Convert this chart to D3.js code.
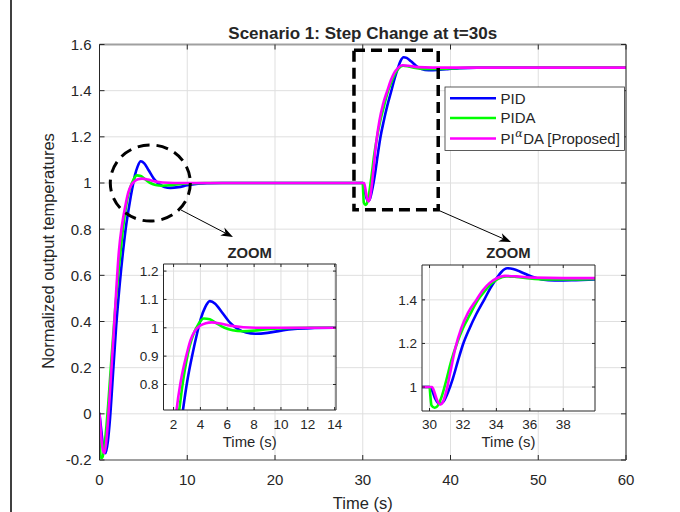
<!DOCTYPE html>
<html><head><meta charset="utf-8">
<script src="https://cdn.jsdelivr.net/npm/d3@7"></script>
<style>
body{margin:0;background:#fff}
svg{display:block}
text{font-family:"Liberation Sans",Arial,Helvetica,sans-serif;fill:#262626}
</style>
</head><body>
<svg id="c" width="680" height="512"></svg>
<script>
// ---------------- data ----------------
const mainXTicks = [0,10,20,30,40,50,60];
const mainYTicks = [-0.2,0,0.2,0.4,0.6,0.8,1,1.2,1.4,1.6];
const zoom1XTicks = [2,4,6,8,10,12,14];
const zoom1YTicks = [0.8,0.9,1,1.1,1.2];
const zoom2XTicks = [30,32,34,36,38];
const zoom2YTicks = [1,1.2,1.4];
const seriesNames = ["PID","PIDA","PIαDA [Proposed]"];
const seriesColors = ["#0000ff","#00ff00","#ff00ff"];

const pidT = [0,0.2,0.45,0.7,0.95,1.2,1.5,1.9,2.3,2.7,3.05,3.4,3.75,4.05,4.35,4.7,5.1,5.6,6.2,6.8,7.4,8.1,9.0,10.0,11.0,12.5,14,
  30,30.15,30.35,30.6,30.85,31.1,31.4,31.7,32.0,32.4,32.8,33.3,33.65,34.0,34.3,34.65,35.0,35.5,36.1,36.7,37.5,38.5,39.5,41,43,60];
const pidY = [0,-0.07,-0.15,-0.17,-0.12,-0.02,0.15,0.38,0.56,0.71,0.82,0.905,0.98,1.035,1.072,1.094,1.085,1.055,1.018,0.995,0.983,0.979,0.982,0.99,0.996,0.999,1.0,
  1.0,0.985,0.945,0.922,0.935,0.975,1.04,1.12,1.195,1.27,1.335,1.405,1.455,1.497,1.528,1.545,1.542,1.527,1.507,1.494,1.489,1.49,1.493,1.497,1.5,1.5];

const pidaT = [0,0.05,0.15,0.35,0.55,0.8,1.05,1.4,1.8,2.15,2.45,2.7,2.95,3.2,3.5,3.85,4.25,4.7,5.2,5.8,6.4,7.1,8.0,9.0,10.0,12,
  30,30.05,30.12,30.3,30.45,30.7,31.0,31.3,31.64,32.0,32.4,32.9,33.3,33.7,34.1,34.6,35.2,36,37,38.5,40,42,60];
const pidaY = [0,-0.12,-0.19,-0.19,-0.14,-0.05,0.07,0.26,0.46,0.61,0.72,0.81,0.88,0.935,0.98,1.013,1.033,1.03,1.016,1.0,0.991,0.988,0.99,0.995,0.998,1.0,
  1.0,0.96,0.915,0.905,0.91,0.95,1.03,1.12,1.2,1.27,1.33,1.40,1.44,1.475,1.497,1.508,1.505,1.498,1.494,1.494,1.496,1.499,1.5];

const piadaT = [0,0.15,0.35,0.55,0.75,0.95,1.25,1.6,1.9,2.2,2.55,2.94,3.25,3.6,4.0,4.4,4.85,5.5,6.3,7.2,8.5,10,
  30,30.15,30.3,30.45,30.64,30.82,31.0,31.25,31.55,31.9,32.3,32.8,33.2,33.6,34.0,34.5,35.2,36.2,38,60];
const piadaY = [0,-0.08,-0.15,-0.17,-0.13,-0.04,0.13,0.34,0.53,0.7,0.815,0.9,0.955,0.99,1.008,1.016,1.019,1.015,1.007,1.002,1.0,1.0,
  1.0,1.0,0.975,0.94,0.92,0.935,0.98,1.07,1.18,1.27,1.34,1.40,1.445,1.478,1.498,1.51,1.508,1.502,1.5,1.5];

const seriesT = [pidT, pidaT, piadaT];
const seriesY = [pidY, pidaY, piadaY];

// ---------------- drawing ----------------
const svg = d3.select("#c");
const fmt = d => String(Math.round(d*100)/100);

// figure left border
svg.append("line").attr("x1",11).attr("x2",11).attr("y1",0).attr("y2",512)
  .attr("stroke","#000").attr("stroke-width",1.5);

function drawAxes(id, xs, ys, xt, yt, o){
  const g = svg.append("g");
  const [x0,x1] = xs.range(), [y0,y1] = ys.range(); // y0 bottom, y1 top
  g.append("rect").attr("x",x0).attr("y",y1).attr("width",x1-x0).attr("height",y0-y1).attr("fill","#fff");
  // grid
  g.selectAll(null).data(xt).enter().append("line")
    .attr("x1",d=>xs(d)).attr("x2",d=>xs(d)).attr("y1",y0).attr("y2",y1)
    .attr("stroke","#dfdfdf").attr("stroke-width",1);
  g.selectAll(null).data(yt).enter().append("line")
    .attr("y1",d=>ys(d)).attr("y2",d=>ys(d)).attr("x1",x0).attr("x2",x1)
    .attr("stroke","#dfdfdf").attr("stroke-width",1);
  // clip
  svg.append("clipPath").attr("id",id).append("rect")
    .attr("x",x0).attr("y",y1).attr("width",x1-x0).attr("height",y0-y1);
  const line = d3.line().x(d=>xs(d[0])).y(d=>ys(d[1])).curve(d3.curveMonotoneX);
  const lg = g.append("g").attr("clip-path",`url(#${id})`);
  seriesT.forEach((T,i)=>{
    const pts = T.map((t,j)=>[t, seriesY[i][j]]);
    lg.append("path").attr("d",line(pts)).attr("fill","none")
      .attr("stroke",seriesColors[i]).attr("stroke-width",o.lw)
      .attr("stroke-linejoin","round").attr("stroke-linecap","round");
  });
  // box
  g.append("line").attr("x1",x0).attr("x2",x0).attr("y1",y0).attr("y2",y1).attr("stroke","#262626").attr("stroke-width",1);
  g.append("line").attr("x1",x1).attr("x2",x1).attr("y1",y0).attr("y2",y1).attr("stroke","#262626").attr("stroke-width",1);
  g.append("line").attr("x1",x0).attr("x2",x1).attr("y1",y0).attr("y2",y0).attr("stroke",o.hcol).attr("stroke-width",o.hw);
  g.append("line").attr("x1",x0).attr("x2",x1).attr("y1",y1).attr("y2",y1).attr("stroke",o.hcol).attr("stroke-width",o.hw);
  // ticks (inward, all sides)
  const tl = o.tick;
  xt.forEach(d=>{
    g.append("line").attr("x1",xs(d)).attr("x2",xs(d)).attr("y1",y0).attr("y2",y0-tl).attr("stroke","#262626");
    g.append("line").attr("x1",xs(d)).attr("x2",xs(d)).attr("y1",y1).attr("y2",y1+tl).attr("stroke","#262626");
  });
  yt.forEach(d=>{
    g.append("line").attr("y1",ys(d)).attr("y2",ys(d)).attr("x1",x0).attr("x2",x0+tl).attr("stroke","#262626");
    g.append("line").attr("y1",ys(d)).attr("y2",ys(d)).attr("x1",x1).attr("x2",x1-tl).attr("stroke","#262626");
  });
  // labels
  g.selectAll(null).data(xt).enter().append("text")
    .attr("x",d=>xs(d)).attr("y",o.xlabY).attr("text-anchor","middle")
    .attr("font-size",o.fs).text(fmt);
  g.selectAll(null).data(yt).enter().append("text")
    .attr("x",x0-o.ypad).attr("y",d=>ys(d)+o.fs*0.36).attr("text-anchor","end")
    .attr("font-size",o.fs).text(fmt);
  g.append("text").attr("x",(x0+x1)/2).attr("y",o.xtitleY).attr("text-anchor","middle")
    .attr("font-size",o.fs*1.1).text("Time (s)");
  return g;
}

// main axes
const x = d3.scaleLinear().domain([0,60]).range([99.5,626]);
const y = d3.scaleLinear().domain([-0.2,1.6]).range([460,44.5]);
drawAxes("clipMain", x, y, mainXTicks, mainYTicks,
  {lw:2.6, hcol:"#a0a0a0", hw:2, tick:5, fs:15, xlabY:485, ypad:8, xtitleY:509});

svg.append("text").attr("x",362.7).attr("y",39).attr("text-anchor","middle")
  .attr("font-size",17).attr("font-weight","bold").attr("fill","#000")
  .text("Scenario 1: Step Change at t=30s");
svg.append("text").attr("transform",`translate(54,251) rotate(-90)`).attr("text-anchor","middle")
  .attr("font-size",16.5).text("Normalized output temperatures");

// dashed annotations
svg.append("rect").attr("x",x(29.0)).attr("y",y(1.575))
  .attr("width",x(38.6)-x(29.0)).attr("height",y(0.884)-y(1.575))
  .attr("fill","none").attr("stroke","#000").attr("stroke-width",3.5).attr("stroke-dasharray","11,6");
svg.append("ellipse").attr("cx",x(5.79)).attr("cy",y(1.0))
  .attr("rx",x(5.79+4.56)-x(5.79)).attr("ry",y(1.0)-y(1.165))
  .attr("fill","none").attr("stroke","#000").attr("stroke-width",3).attr("stroke-dasharray","12,7");

// legend
const lgX = 445, lgY = 87, lgW = 179.5, lgH = 63.5;
const leg = svg.append("g");
leg.append("rect").attr("x",lgX).attr("y",lgY).attr("width",lgW).attr("height",lgH)
  .attr("fill","#fff").attr("stroke","#333").attr("stroke-width",0.8);
const rowY = [98.3, 118, 138.5];
seriesNames.forEach((n,i)=>{
  leg.append("line").attr("x1",lgX+5).attr("x2",lgX+51).attr("y1",rowY[i]).attr("y2",rowY[i])
    .attr("stroke",seriesColors[i]).attr("stroke-width",2.6);
  const t = leg.append("text").attr("x",lgX+55.5).attr("y",rowY[i]+5.3).attr("font-size",15).attr("fill","#000");
  if(i<2){ t.text(n); }
  else {
    t.append("tspan").text("PI");
    t.append("tspan").attr("font-size",11).attr("dy",-6.5).attr("dx",0.5).attr("font-family","DejaVu Serif, serif").attr("font-style","italic").text("α");
    t.append("tspan").attr("dy",6.5).attr("dx",0.5).text("DA [Proposed]");
  }
});

// zoom insets
const x1s = d3.scaleLinear().domain([1.25,14.1]).range([163.5,336]);
const y1s = d3.scaleLinear().domain([0.71,1.225]).range([410,264]);
drawAxes("clipZ1", x1s, y1s, zoom1XTicks, zoom1YTicks,
  {lw:2.6, hcol:"#262626", hw:1, tick:3, fs:13.5, xlabY:429, ypad:5, xtitleY:447});
svg.append("text").attr("x",(163.5+336)/2).attr("y",258).attr("text-anchor","middle")
  .attr("font-size",14.8).attr("font-weight","bold").attr("fill","#000").text("ZOOM");

const x2s = d3.scaleLinear().domain([29.55,39.9]).range([422,595]);
const y2s = d3.scaleLinear().domain([0.89,1.56]).range([411,265]);
drawAxes("clipZ2", x2s, y2s, zoom2XTicks, zoom2YTicks,
  {lw:2.6, hcol:"#262626", hw:1, tick:3, fs:13.5, xlabY:429, ypad:5, xtitleY:447});
svg.append("text").attr("x",(422+595)/2).attr("y",258).attr("text-anchor","middle")
  .attr("font-size",14.8).attr("font-weight","bold").attr("fill","#000").text("ZOOM");

// arrows
function arrow(t1,v1,t2,v2){
  const ax=x(t1), ay=y(v1), bx=x(t2), by=y(v2);
  const dx=bx-ax, dy=by-ay, L=Math.hypot(dx,dy), ux=dx/L, uy=dy/L, nx=-uy, ny=ux;
  const hl=12, hw=4.5, nd=3.5;
  svg.append("line").attr("x1",ax).attr("y1",ay).attr("x2",bx-ux*(hl-nd)).attr("y2",by-uy*(hl-nd))
    .attr("stroke","#000").attr("stroke-width",1);
  const p=[[bx,by],[bx-ux*hl+nx*hw,by-uy*hl+ny*hw],[bx-ux*(hl-nd),by-uy*(hl-nd)],[bx-ux*hl-nx*hw,by-uy*hl-ny*hw]];
  svg.append("path").attr("d","M"+p.map(q=>q.join(",")).join("L")+"Z").attr("fill","#000");
}
arrow(9.29,0.883,15.21,0.766);
arrow(38.8,0.879,46.9,0.744);
</script>
</body></html>
